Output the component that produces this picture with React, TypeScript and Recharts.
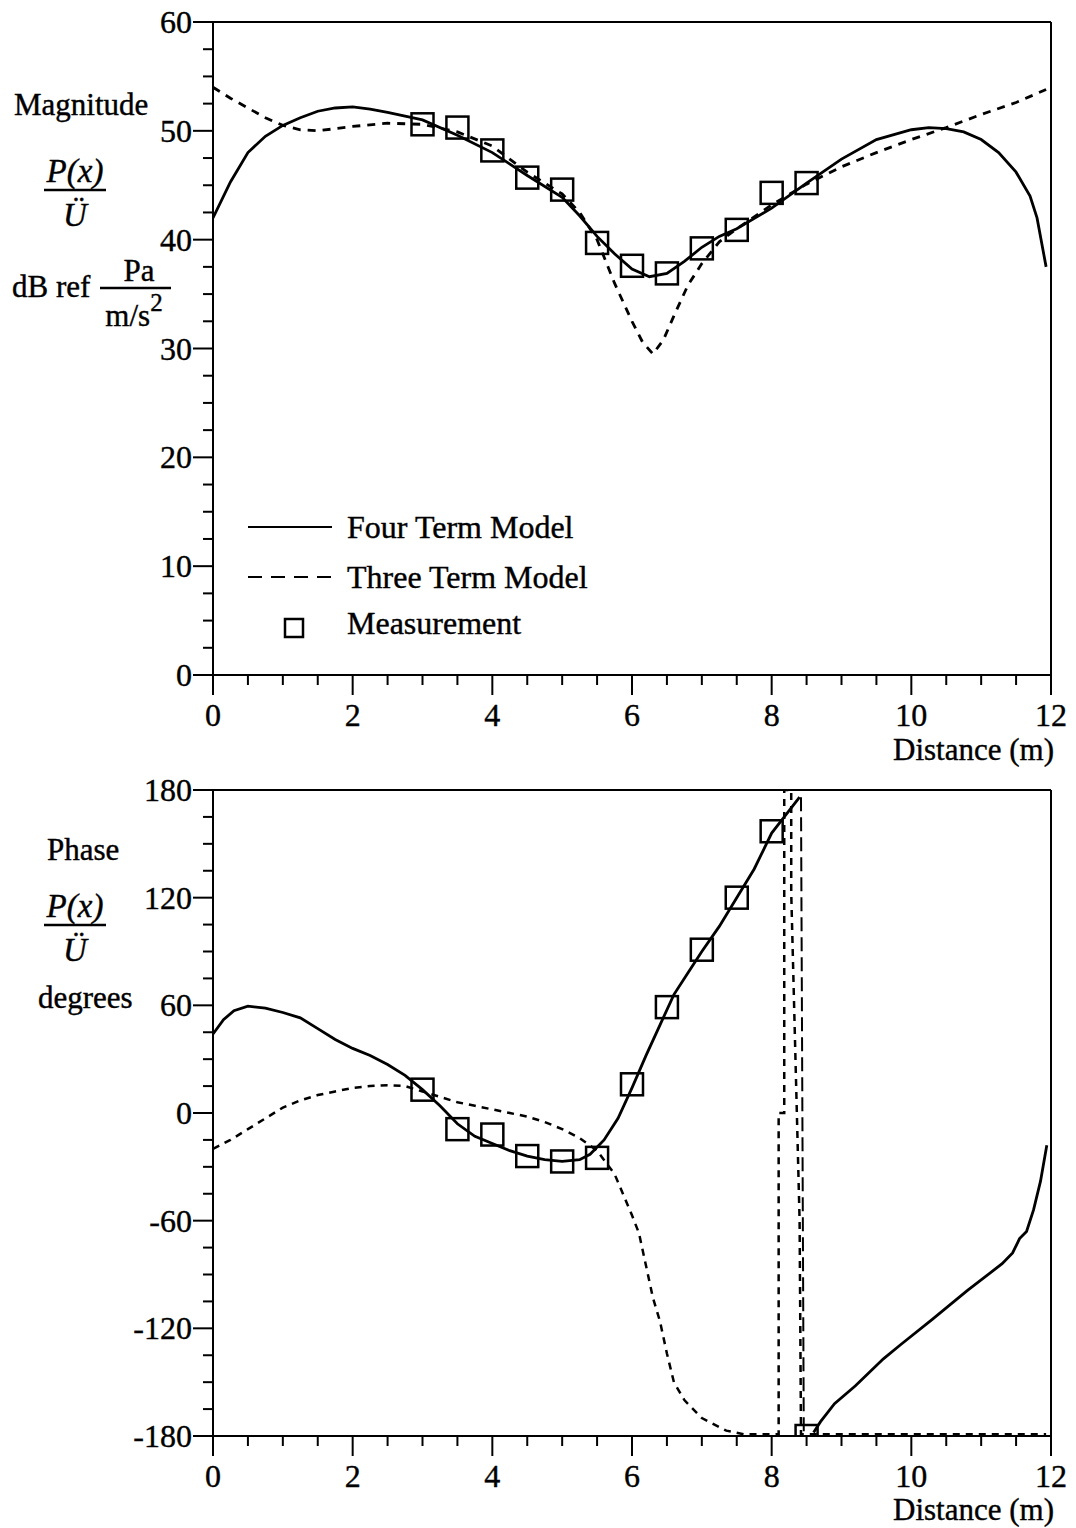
import React from 'react'
import { ComposedChart, Line, Scatter, XAxis, YAxis, ReferenceLine } from 'recharts'

const FONT = '"Liberation Serif", "Times New Roman", Times, serif'

// distance axis (m)
const distanceTicks = [0, 0.5, 1, 1.5, 2, 2.5, 3, 3.5, 4, 4.5, 5, 5.5, 6, 6.5, 7, 7.5, 8, 8.5, 9, 9.5, 10, 10.5, 11, 11.5, 12]
const magTicks = [0, 2.5, 5, 7.5, 10, 12.5, 15, 17.5, 20, 22.5, 25, 27.5, 30, 32.5, 35, 37.5, 40, 42.5, 45, 47.5, 50, 52.5, 55, 57.5, 60]
const phaseTicks = [-180, -165, -150, -135, -120, -105, -90, -75, -60, -45, -30, -15, 0, 15, 30, 45, 60, 75, 90, 105, 120, 135, 150, 165, 180]

// magnitude, dB ref Pa/(m/s^2)
const fourTermMag: [number, number][] = [
  [0, 42.0], [0.25, 45.3], [0.5, 48.0], [0.75, 49.5], [1.0, 50.5], [1.25, 51.2], [1.5, 51.8], [1.75, 52.1],
  [2.0, 52.2], [2.25, 52.0], [2.5, 51.7], [3.0, 51.0], [3.5, 49.6], [4.0, 48.0], [4.5, 45.9], [5.0, 43.9],
  [5.25, 42.2], [5.5, 40.3], [5.75, 38.7], [6.0, 37.3], [6.25, 36.6], [6.5, 36.9], [6.75, 38.0], [7.0, 39.3],
  [7.25, 40.3], [7.5, 41.0], [8.0, 42.9], [8.5, 45.2], [9.0, 47.4], [9.5, 49.2], [10.0, 50.1], [10.25, 50.3],
  [10.5, 50.2], [10.75, 49.9], [11.0, 49.2], [11.25, 48.0], [11.5, 46.2], [11.7, 44.0], [11.8, 42.0], [11.93, 37.5],
]
const threeTermMag: [number, number][] = [
  [0, 54.0], [0.25, 53.0], [0.5, 52.1], [0.75, 51.2], [1.0, 50.5], [1.25, 50.1], [1.5, 50.0], [2.0, 50.4],
  [2.5, 50.7], [3.0, 50.6], [3.5, 49.9], [4.0, 48.6], [4.5, 46.2], [5.0, 44.2], [5.25, 42.5], [5.5, 40.0],
  [5.75, 36.0], [6.0, 32.5], [6.15, 30.6], [6.3, 29.5], [6.45, 30.8], [6.6, 33.0], [6.8, 35.8], [7.0, 37.8],
  [7.25, 39.8], [7.5, 41.0], [8.0, 43.2], [8.5, 45.1], [9.0, 46.7], [9.5, 48.0], [10.0, 49.2], [10.5, 50.3],
  [11.0, 51.5], [11.5, 52.6], [11.93, 53.8],
]
const measuredMag: [number, number][] = [
  [3.0, 50.6], [3.5, 50.3], [4.0, 48.2], [4.5, 45.7], [5.0, 44.6], [5.5, 39.7],
  [6.0, 37.6], [6.5, 36.9], [7.0, 39.2], [7.5, 40.9], [8.0, 44.3], [8.5, 45.2],
]

// phase, degrees
const fourTermPhaseA: [number, number][] = [
  [0, 44], [0.15, 52], [0.3, 57], [0.5, 59.5], [0.75, 58.5], [1.0, 56], [1.25, 53], [1.5, 47], [1.75, 41],
  [2.0, 36], [2.25, 32], [2.5, 27], [2.75, 21], [3.0, 13], [3.25, 4], [3.5, -6], [3.75, -13], [4.0, -17],
  [4.25, -21], [4.5, -24], [4.75, -26], [5.0, -27], [5.25, -26], [5.4, -23], [5.6, -15], [5.8, -3], [6.0, 14],
  [6.2, 32], [6.4, 49], [6.6, 66], [6.8, 78], [7.0, 90], [7.25, 104], [7.5, 120], [7.75, 136], [8.0, 156],
  [8.2, 166], [8.4, 176],
]
const fourTermWrap: [number, number][] = [[8.42, 176], [8.46, -180]]
const fourTermPhaseB: [number, number][] = [
  [8.6, -178], [8.7, -172], [8.9, -162], [9.2, -152], [9.6, -137], [9.85, -129], [10.3, -115], [10.8, -99],
  [11.3, -84], [11.45, -78], [11.55, -70], [11.65, -66], [11.75, -54], [11.85, -38], [11.94, -18],
]
const threeTermPhase: [number, number][] = [
  [0, -20], [0.25, -15], [0.5, -9], [0.75, -3], [1.0, 3], [1.25, 7], [1.5, 10], [1.75, 12], [2.0, 14],
  [2.25, 15], [2.5, 15.5], [2.75, 15], [3.0, 12], [3.25, 9], [3.5, 6], [3.75, 4], [4.0, 2], [4.25, 0],
  [4.5, -2], [4.75, -5], [5.0, -9], [5.25, -14], [5.5, -21], [5.75, -34], [6.0, -57], [6.1, -67], [6.2, -85],
  [6.3, -103], [6.4, -116], [6.5, -134], [6.6, -150], [6.75, -160], [7.0, -170], [7.35, -177], [7.6, -179],
  [8.1, -179], [8.1, 0], [8.18, 0], [8.18, 180], [8.28, 180], [8.28, 123], [8.4, -60], [8.42, -179], [11.93, -179],
]
const measuredPhase: [number, number][] = [
  [3.0, 13], [3.5, -9], [4.0, -12], [4.5, -24], [5.0, -27], [5.5, -25],
  [6.0, 16], [6.5, 59], [7.0, 91], [7.5, 120], [8.0, 157], [8.5, -180],
]

const pts = (arr: [number, number][]) => arr.map(([x, y]) => ({ x, y }))

const textInk = { fill: '#000', stroke: '#000', strokeWidth: 0.4 }

const XTick = ({ x, y, payload }: any) => {
  const v = payload.value
  const major = v % 2 === 0
  return (
    <g>
      <line x1={x} y1={y} x2={x} y2={y + (major ? 20 : 10)} stroke="#000" strokeWidth={2} />
      {major && (
        <text x={x} y={y + 51} textAnchor="middle" fontFamily={FONT} fontSize={32} {...textInk}>
          {v}
        </text>
      )}
    </g>
  )
}

const makeYTick = (step: number) => ({ x, y, payload }: any) => {
  const v = payload.value
  const major = v % step === 0
  return (
    <g>
      <line x1={x - (major ? 20 : 10)} y1={y} x2={x} y2={y} stroke="#000" strokeWidth={2} />
      {major && (
        <text x={x - 21} y={y + 11} textAnchor="end" fontFamily={FONT} fontSize={32} {...textInk}>
          {v}
        </text>
      )}
    </g>
  )
}

const Square = ({ cx, cy }: any) => (
  <rect x={cx - 11} y={cy - 11} width={22} height={22} fill="none" stroke="#000" strokeWidth={2.5} />
)

const lineProps = {
  type: 'linear' as const,
  dataKey: 'y',
  stroke: '#000',
  strokeWidth: 2.8,
  dot: false,
  activeDot: false,
  isAnimationActive: false,
}

function MagnitudeChart() {
  return (
    <ComposedChart width={1076} height={760} margin={{ top: 22, right: 25, bottom: 0, left: 0 }}>
      <XAxis
        type="number"
        dataKey="x"
        domain={[0, 12]}
        ticks={distanceTicks}
        interval={0}
        allowDataOverflow
        height={85}
        tickSize={0}
        tickMargin={0}
        tickLine={false}
        axisLine={{ stroke: '#000', strokeWidth: 2 }}
        tick={XTick}
      />
      <YAxis
        type="number"
        dataKey="y"
        domain={[0, 60]}
        ticks={magTicks}
        interval={0}
        allowDataOverflow
        width={213}
        tickSize={0}
        tickMargin={0}
        tickLine={false}
        axisLine={{ stroke: '#000', strokeWidth: 2 }}
        tick={makeYTick(10)}
      />
      <ReferenceLine y={60} stroke="#000" strokeWidth={2} />
      <ReferenceLine x={12} stroke="#000" strokeWidth={2} />
      <Line {...lineProps} data={pts(threeTermMag)} strokeDasharray="8 7" />
      <Line {...lineProps} data={pts(fourTermMag)} />
      <Scatter data={pts(measuredMag)} dataKey="y" shape={Square} isAnimationActive={false} />
    </ComposedChart>
  )
}

function PhaseChart() {
  return (
    <ComposedChart width={1076} height={760} margin={{ top: 22, right: 25, bottom: 0, left: 0 }}>
      <XAxis
        type="number"
        dataKey="x"
        domain={[0, 12]}
        ticks={distanceTicks}
        interval={0}
        allowDataOverflow
        height={92}
        tickSize={0}
        tickMargin={0}
        tickLine={false}
        axisLine={{ stroke: '#000', strokeWidth: 2 }}
        tick={XTick}
      />
      <YAxis
        type="number"
        dataKey="y"
        domain={[-180, 180]}
        ticks={phaseTicks}
        interval={0}
        allowDataOverflow
        width={213}
        tickSize={0}
        tickMargin={0}
        tickLine={false}
        axisLine={{ stroke: '#000', strokeWidth: 2 }}
        tick={makeYTick(60)}
      />
      <ReferenceLine y={180} stroke="#000" strokeWidth={2} />
      <ReferenceLine x={12} stroke="#000" strokeWidth={2} />
      <Line {...lineProps} data={pts(threeTermPhase)} strokeDasharray="7 6" strokeWidth={2.5} />
      <Line {...lineProps} data={pts(fourTermWrap)} strokeDasharray="14 6" strokeWidth={2} />
      <Line {...lineProps} data={pts(fourTermPhaseA)} />
      <Line {...lineProps} data={pts(fourTermPhaseB)} />
      <Scatter data={pts(measuredPhase)} dataKey="y" shape={Square} isAnimationActive={false} />
    </ComposedChart>
  )
}

function Fraction({ cx, base, num, den }: { cx: number; base: number; num: string; den: string }) {
  return (
    <g fontFamily={FONT} fontSize={33} fontStyle="italic" textAnchor="middle" {...textInk}>
      <text x={cx} y={base}>{num}</text>
      <line x1={cx - 31} x2={cx + 31} y1={base + 8} y2={base + 8} stroke="#000" strokeWidth={2.5} />
      <text x={cx} y={base + 44}>{den}</text>
    </g>
  )
}

function Annotations() {
  return (
    <svg width={1076} height={1528} style={{ position: 'absolute', left: 0, top: 0, pointerEvents: 'none' }}>
      <g fontFamily={FONT} fontSize={31} {...textInk}>
        <text x={14} y={115}>Magnitude</text>
        <text x={12} y={297}>dB ref</text>
        <text x={47} y={860}>Phase</text>
        <text x={38} y={1008}>degrees</text>
        <text x={1054} y={760} textAnchor="end">Distance (m)</text>
        <text x={1054} y={1520} textAnchor="end">Distance (m)</text>
      </g>
      <Fraction cx={75} base={182} num="P(x)" den="Ü" />
      <Fraction cx={75} base={917} num="P(x)" den="Ü" />
      <g fontFamily={FONT} fontSize={31} textAnchor="middle" {...textInk}>
        <text x={139} y={281}>Pa</text>
        <line x1={100} x2={171} y1={288} y2={288} stroke="#000" strokeWidth={2.5} />
        <text x={134} y={326}>
          m/s<tspan dy={-15} fontSize={25}>2</tspan>
        </text>
      </g>
      <g fontFamily={FONT} fontSize={32} {...textInk}>
        <line x1={248} x2={332} y1={527} y2={527} stroke="#000" strokeWidth={2} />
        <text x={347} y={538}>Four Term Model</text>
        <line x1={248} x2={332} y1={577} y2={577} stroke="#000" strokeWidth={2} strokeDasharray="14 9" />
        <text x={347} y={588}>Three Term Model</text>
        <rect x={285} y={619} width={18} height={18} fill="none" stroke="#000" strokeWidth={2.5} />
        <text x={347} y={634}>Measurement</text>
      </g>
    </svg>
  )
}

export default function App() {
  return (
    <div style={{ position: 'absolute', left: 0, top: 0, width: 1076, height: 1528, background: '#fff', overflow: 'hidden' }}>
      <div style={{ position: 'absolute', left: 0, top: 0 }}>
        <MagnitudeChart />
      </div>
      <div style={{ position: 'absolute', left: 0, top: 768 }}>
        <PhaseChart />
      </div>
      <Annotations />
    </div>
  )
}
